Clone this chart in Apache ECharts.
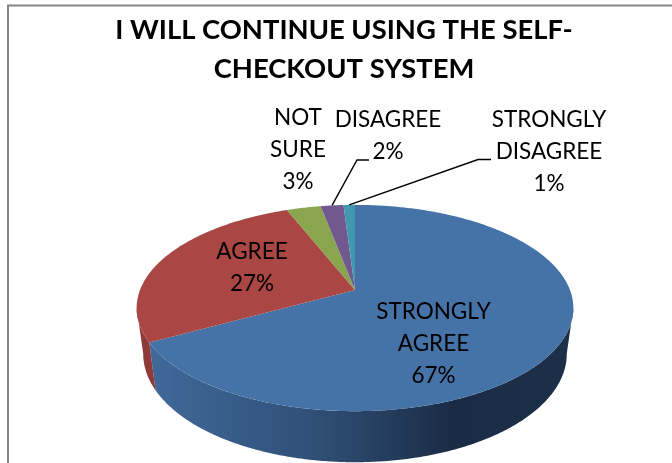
<!DOCTYPE html>
<html>
<head>
<meta charset="utf-8">
<style>html,body{margin:0;padding:0;background:#fff}#chart{width:672px;height:463px}</style>
<script src="https://cdn.jsdelivr.net/npm/echarts@6/dist/echarts.min.js"></script>
</head>
<body>
<div id="chart"></div>
<script>
// Survey answers, clockwise from twelve o'clock
const categories = ['STRONGLY AGREE', 'AGREE', 'NOT SURE', 'DISAGREE', 'STRONGLY DISAGREE'];
const shares = [67, 27, 3, 2, 1];
const labelLines = [
  ['STRONGLY', 'AGREE'],
  ['AGREE'],
  ['NOT', 'SURE'],
  ['DISAGREE'],
  ['STRONGLY', 'DISAGREE']
];
const topColors = ['#4572A7', '#AA4643', '#89A54E', '#71588F', '#4198AF'];
const chartTitle = 'I WILL CONTINUE USING THE SELF-\nCHECKOUT SYSTEM';

// Label centres and leader elbows, in pixels
const labelCentres = [[433.5, 344], [252, 267.5], [298, 149.5], [388, 135.5], [549, 151.5]];
const leaderElbows = [null, null, null, [[357, 160], [369, 160]], [[478, 159.5], [491, 159.5]]];

// Perspective disc: rim point at clockwise angle t from the top
const disc = { cx: 355, cy: 290, a: 215, b: 100, k: 0.1747 };
const base = { cx: 355, cy: 335, a: 208.5, b: 105, k: 0.1747 };
function project(p, t) {
  const u = Math.sin(t), v = Math.cos(t), w = 1 + p.k * v;
  return [p.cx + p.a * u / w, p.cy - p.b * v / w];
}
function arc(p, from, to) {
  const n = Math.max(2, Math.ceil(Math.abs(to - from) / 0.01));
  const pts = [];
  for (let i = 0; i <= n; i++) pts.push(project(p, from + (to - from) * i / n));
  return pts;
}

const RIGHT = 100 * Math.PI / 180;
const LEFT = 260 * Math.PI / 180;
const blueWall = {
  type: 'linear', global: true, x: 150, y: 0, x2: 570, y2: 0,
  colorStops: [
    { offset: 0, color: '#40699A' },
    { offset: 0.4, color: '#2F4F76' },
    { offset: 0.72, color: '#1A2C45' },
    { offset: 1, color: '#1C3049' }
  ]
};
const sideFills = [blueWall, '#8E3A38', '#74893F', '#5D4876', '#347C90'];

function renderSlice(params, api) {
  const i = params.dataIndex;
  const total = shares.reduce((s, x) => s + x, 0);
  let before = 0;
  for (let j = 0; j < i; j++) before += shares[j];
  const value = api.value(0);
  const t0 = before / total * 2 * Math.PI;
  const t1 = (before + value) / total * 2 * Math.PI;
  const children = [];

  // Visible wall: only the near part of the rim between the two silhouettes
  const w0 = Math.max(t0, RIGHT), w1 = Math.min(t1, LEFT);
  if (w1 > w0) {
    const pts = arc(disc, w0, w1).concat(arc(base, w1, w0));
    children.push({ type: 'polygon', shape: { points: pts }, style: { fill: sideFills[i] } });
  }

  // Top face
  const face = [[disc.cx, disc.cy]].concat(arc(disc, t0, t1));
  children.push({ type: 'polygon', shape: { points: face }, style: { fill: topColors[i] } });

  // Leader line from the rim to the label
  if (leaderElbows[i]) {
    const start = project(disc, (t0 + t1) / 2);
    children.push({
      type: 'polyline',
      shape: { points: [start].concat(leaderElbows[i]) },
      style: { fill: null, stroke: '#000', lineWidth: 1.4 }
    });
  }

  // Label, drawn above every slice
  children.push({
    type: 'text', z2: 10,
    x: labelCentres[i][0], y: labelCentres[i][1],
    style: {
      text: labelLines[i].concat(value + '%').join('\n'),
      fontFamily: 'Lato', fontSize: 22.5, lineHeight: 32,
      fill: '#000', align: 'center', verticalAlign: 'middle'
    }
  });
  return { type: 'group', children };
}

const chart = echarts.init(document.getElementById('chart'));
chart.setOption({
  animation: false,
  backgroundColor: '#fff',
  title: {
    text: chartTitle, left: 339, top: 6, textAlign: 'center',
    textStyle: { fontFamily: 'Lato', fontWeight: 'bold', fontSize: 27.4, lineHeight: 38.5, color: '#000' }
  },
  graphic: [
    { type: 'polyline', shape: { points: [[8, 463], [8, 5.6], [672, 5.6]] },
      style: { fill: null, stroke: '#868686', lineWidth: 2 } }
  ],
  series: [{
    type: 'custom',
    coordinateSystem: 'none',
    renderItem: renderSlice,
    data: shares.map((v, i) => ({ name: categories[i], value: [v] }))
  }]
});
</script>
</body>
</html>
